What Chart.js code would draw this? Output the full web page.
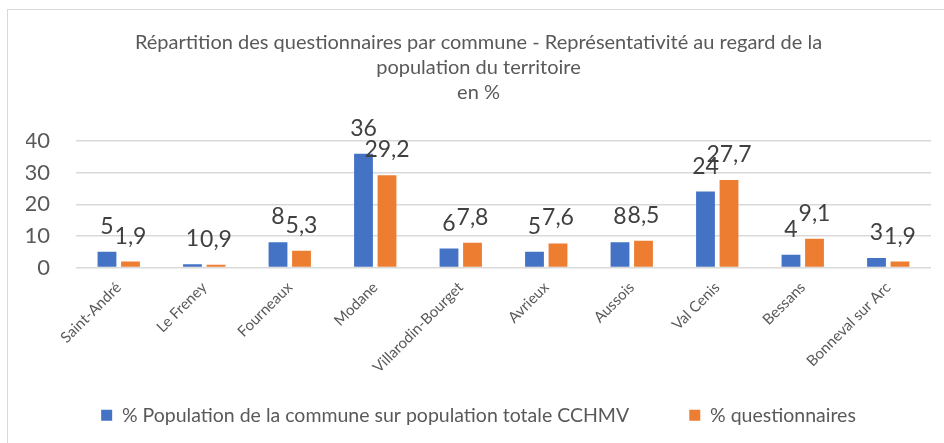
<!DOCTYPE html>
<html>
<head>
<meta charset="utf-8">
<script src="https://cdn.jsdelivr.net/npm/chart.js@4"></script>
<style>
  body { margin: 0; background: #fff; overflow: hidden; }
  #frame { position: absolute; left: 7px; top: 9px; width: 1000px; height: 1000px;
           border-left: 1px solid #D9D9D9; border-top: 1px solid #D9D9D9; }
  #box { position: absolute; left: 8px; top: 10px; width: 936px; height: 433px; }
</style>
</head>
<body>
<div id="frame"></div>
<div id="box"><canvas id="chart"></canvas></div>
<script>
const communes = ['Saint-André', 'Le Freney', 'Fourneaux', 'Modane', 'Villarodin-Bourget',
    'Avrieux', 'Aussois', 'Val Cenis', 'Bessans', 'Bonneval sur Arc'];
const populationPct = [5, 1, 8, 36, 6, 5, 8, 24, 4, 3];
const questionnairesPct = [1.9, 0.9, 5.3, 29.2, 7.8, 7.6, 8.5, 27.7, 9.1, 1.9];
const yTicks = [0, 10, 20, 30, 40];
const titleLines = ['Répartition des questionnaires par commune - Représentativité au regard de la',
    'population du territoire', 'en %'];

const fontName = 'Lato, "Open Sans", sans-serif';

// labels above the bars, like excel "outside end"
const barLabels = {
    id: 'barLabels',
    afterDatasetsDraw(chart) {
        const ctx = chart.ctx;
        ctx.save();
        ctx.font = '23px ' + fontName;
        ctx.fillStyle = '#404040';
        ctx.textAlign = 'center';
        ctx.textBaseline = 'alphabetic';
        chart.data.datasets.forEach((ds, i) => {
            chart.getDatasetMeta(i).data.forEach((bar, j) => {
                const txt = String(ds.data[j]).replace('.', ',');
                ctx.fillText(txt, bar.x, bar.y - 18);
            });
        });
        ctx.restore();
    }
};

new Chart(document.getElementById('chart'), {
    type: 'bar',
    data: {
        labels: communes,
        datasets: [{
            label: '% Population de la commune sur population totale CCHMV',
            data: populationPct,
            backgroundColor: '#4472C4'
        }, {
            label: '% questionnaires',
            data: questionnairesPct,
            backgroundColor: '#ED7D31'
        }]
    },
    options: {
        responsive: true,
        maintainAspectRatio: false,
        animation: false,
        categoryPercentage: 0.55,
        barPercentage: 0.8,
        layout: { padding: { left: 18, right: 13, top: 0, bottom: 8 } },
        plugins: {
            title: {
                display: true,
                text: titleLines,
                color: '#595959',
                font: { family: fontName, size: 20, weight: 'normal', lineHeight: 1.25 },
                padding: { top: 20, bottom: 36 }
            },
            legend: {
                position: 'bottom',
                labels: {
                    color: '#595959',
                    font: { family: fontName, size: 19.5 },
                    boxWidth: 11,
                    boxHeight: 11,
                    padding: 26,
                    // wider gap between the two entries
                    generateLabels: (chart) => Chart.defaults.plugins.legend.labels.generateLabels(chart)
                        .map((item, i) => i === 0 ? { ...item, text: item.text + '\u2002\u2003\u2002' } : item)
                }
            },
            tooltip: { enabled: false }
        },
        scales: {
            x: {
                grid: { display: false },
                border: { display: false },
                // rotated labels may run left of the plot, like in excel
                afterFit: (scale) => { scale.paddingLeft = 0; },
                ticks: {
                    color: '#595959',
                    font: { family: fontName, size: 15 },
                    minRotation: 45,
                    maxRotation: 45
                }
            },
            y: {
                min: 0,
                max: 40,
                afterBuildTicks: (axis) => { axis.ticks = yTicks.map(v => ({ value: v })); },
                afterFit: (scale) => { scale.width = 50; },
                grid: { color: '#D9D9D9', lineWidth: 1.5, drawTicks: false },
                border: { display: false },
                ticks: {
                    color: '#595959',
                    font: { family: fontName, size: 22 },
                    padding: 26
                }
            }
        }
    },
    plugins: [barLabels]
});
</script>
</body>
</html>
